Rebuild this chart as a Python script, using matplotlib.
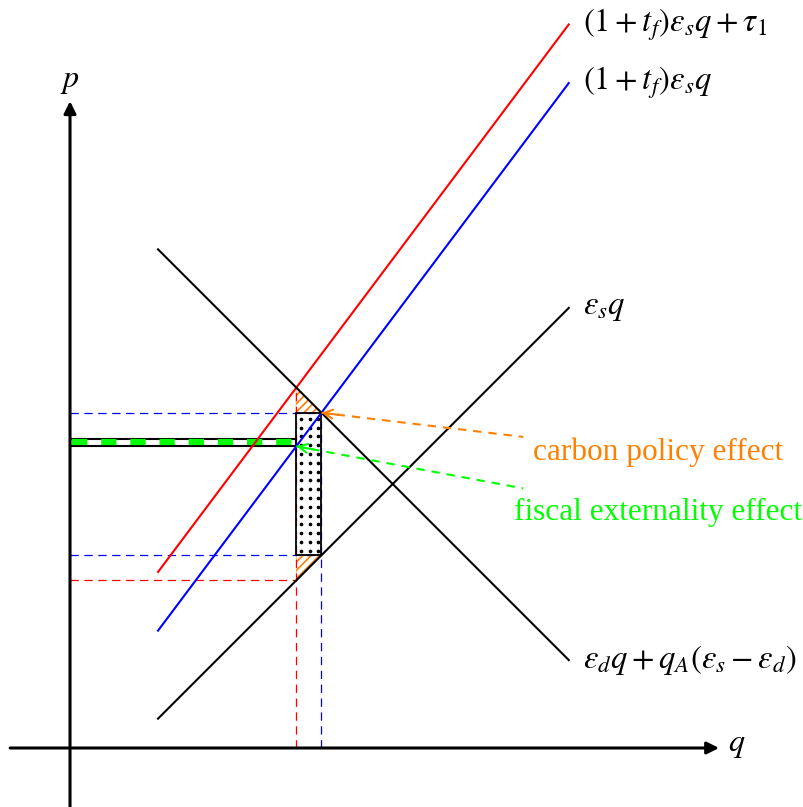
import numpy as np
import matplotlib
matplotlib.use("Agg")
import matplotlib.pyplot as plt
from matplotlib.patches import Polygon, Rectangle

plt.rcParams["font.family"] = ["Liberation Serif", "DejaVu Serif"]
plt.rcParams["mathtext.fontset"] = "stix"
plt.rcParams["lines.scale_dashes"] = False
plt.rcParams["hatch.linewidth"] = 1.2
plt.rcParams["hatch.color"] = "#FF8000"

# -----------------------
# Model parameters
# -----------------------
eps_s = 1.0          # supply slope
eps_d = -1.0         # demand slope
t_f = 1 / 3          # fiscal tax rate
tau_1 = 4 / 3        # carbon tax
supply_shift = -4 / 3
demand_int = 40 / 3
q_range = [2.0, 34 / 3]

# annotation anchors and label positions (q, p)
carbon_end = [10.3, 7.07]
fiscal_end = [10.3, 5.90]
carbon_label = [13.36, 6.73]
fiscal_label = [13.36, 5.36]
fe_height = 0.175    # height of fiscal externality strip


def supply(q):
    return eps_s * q + supply_shift


def taxed(q):
    return (1 + t_f) * eps_s * q


def taxed_tau(q):
    return taxed(q) + tau_1


def demand(q):
    return demand_int + eps_d * q


slope_gap = (1 + t_f) * eps_s - eps_d
q1 = (demand_int - tau_1) / slope_gap   # with carbon tax
q2 = demand_int / slope_gap             # without carbon tax
p_red = demand(q1)
p_blue = demand(q2)

ORANGE = "#FF8000"
GREEN = "#00FF00"

fig = plt.figure(figsize=(8.04, 8.07), dpi=100)
ax = fig.add_axes([0, 0, 1, 1])
ax.set_xlim(-1.591, 16.68)
ax.set_ylim(-1.341, 17.0)
ax.axis("off")

# -----------------------
# Axes with arrows
# -----------------------
ax.annotate("", xy=(14.75, 0), xytext=(-1.36, 0),
            arrowprops=dict(arrowstyle="-|>", color="black", lw=2.2,
                            mutation_scale=18, shrinkA=0, shrinkB=0))
ax.annotate("", xy=(0, 14.7), xytext=(0, -1.36),
            arrowprops=dict(arrowstyle="-|>", color="black", lw=2.2,
                            mutation_scale=18, shrinkA=0, shrinkB=0))
ax.text(15.15, 0.05, "$q$", fontsize=23, ha="center", va="center")
ax.text(0, 15.15, "$p$", fontsize=23, ha="center", va="center")

# -----------------------
# Shaded areas
# -----------------------
upper_tri = Polygon([[q1, p_red], [q1, p_blue], [q2, p_blue]], closed=True,
                    facecolor="none", edgecolor=ORANGE, hatch="////", lw=0.3,
                    zorder=2)
lower_tri = Polygon([[q1, supply(q2)], [q2, supply(q2)], [q1, supply(q1)]],
                    closed=True, facecolor="none", edgecolor=ORANGE,
                    hatch="////", lw=0.3, zorder=2)
ax.add_patch(upper_tri)
ax.add_patch(lower_tri)

ax.add_patch(Rectangle((q1, supply(q2)), q2 - q1, p_blue - supply(q2),
                       fill=False, edgecolor="black", lw=1.3, zorder=3))
dq = np.arange(q1 + 0.1, q2, 0.2)
dp = np.arange(supply(q2) + 0.1, p_blue, 0.2)
DQ, DP = np.meshgrid(dq, dp)
ax.scatter(DQ.ravel(), DP.ravel(), s=7, color="black", zorder=3, linewidths=0)

# fiscal externality strip
ax.add_patch(Rectangle((0, taxed(q1)), q1, fe_height, fill=False,
                       edgecolor="black", lw=1.5, zorder=4))
ax.plot([0.05, q1], [taxed(q1) + fe_height / 2] * 2, color=GREEN, lw=4.5,
        ls=(0, (11, 10)), solid_capstyle="butt", zorder=4)

# -----------------------
# Dashed guide lines
# -----------------------
thin = dict(lw=0.9)
ax.plot([0, q2], [p_blue, p_blue], color="blue", ls=(0, (6, 4)), **thin)
ax.plot([0, q2], [supply(q2)] * 2, color="blue", ls=(0, (6, 4)), **thin)
ax.plot([0, q1], [supply(q1)] * 2, color="red", ls=(0, (6, 4)), **thin)
ax.plot([q1, q1], [0, p_red], color="red", ls=(0, (6, 4)), **thin)
ax.plot([q2, q2], [0, p_blue], color="blue", ls=(0, (6, 4)), **thin)

# -----------------------
# Curves
# -----------------------
q = np.array(q_range)
ax.plot(q, taxed_tau(q), color="red", lw=1.5, zorder=5)
ax.plot(q, taxed(q), color="blue", lw=1.5, zorder=5)
ax.plot(q, supply(q), color="black", lw=1.5, zorder=5)
ax.plot(q, demand(q), color="black", lw=1.5, zorder=5)

lx = q_range[1] + 0.33
ax.text(lx, taxed_tau(q_range[1]), r"$(1+t_f)\varepsilon_s q+\tau_1$",
        fontsize=23.5, ha="left", va="center")
ax.text(lx, taxed(q_range[1]), r"$(1+t_f)\varepsilon_s q$",
        fontsize=23.5, ha="left", va="center")
ax.text(lx, supply(q_range[1]), r"$\varepsilon_s q$",
        fontsize=23.5, ha="left", va="center")
ax.text(lx, demand(q_range[1]), r"$\varepsilon_d q+q_A(\varepsilon_s-\varepsilon_d)$",
        fontsize=23.5, ha="left", va="center")

# -----------------------
# Effect annotations
# -----------------------
for (qa, pa), end, col in [((q2, p_blue), carbon_end, ORANGE),
                           ((q1, taxed(q1)), fiscal_end, GREEN)]:
    ax.plot([qa, end[0]], [pa, end[1]], color=col, lw=1.5, ls=(0, (6, 5)), zorder=6)
    d = np.array(end) - np.array([qa, pa])
    d = d / np.hypot(*d) * 0.4
    ax.annotate("", xy=(qa, pa), xytext=(qa + d[0], pa + d[1]),
                arrowprops=dict(arrowstyle="->", color=col, lw=1.5,
                                mutation_scale=16, shrinkA=0, shrinkB=0),
                zorder=6)

ax.text(*carbon_label, "carbon policy effect", color=ORANGE, fontsize=22.5,
        ha="center", va="center")
ax.text(*fiscal_label, "fiscal externality effect", color=GREEN, fontsize=22.5,
        ha="center", va="center")

plt.savefig("out.png", dpi=100)
